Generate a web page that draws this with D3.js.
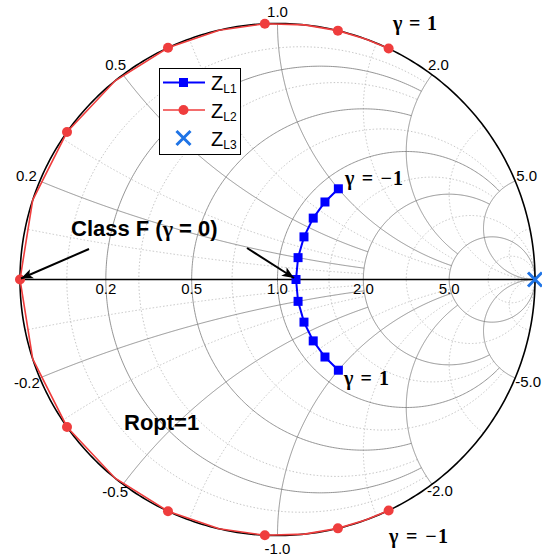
<!DOCTYPE html>
<html>
<head>
<meta charset="utf-8">
<script src="https://cdn.jsdelivr.net/npm/d3@7"></script>
<style>
  body { margin: 0; background: #fff; }
</style>
</head>
<body>
<svg id="chart" width="542" height="558" font-family="'Liberation Sans', Arial, sans-serif"></svg>
<script>
// Grid: major circles/arcs and the value at which each one stops
const majorValues = [0.2, 0.5, 1, 2, 5];
const majorLimits = [2, 2, 5, 5, Infinity];
// Minor dotted grid
const minorValues = [0.1, 0.3, 0.7, 1.5, 3, 10];
const minorLimits = [2, 2, 5, 5, Infinity, Infinity];

// Tick labels
const realTickLabels = ["0.2", "0.5", "1.0", "2.0", "5.0"];
const rimTickLabels = ["0.2", "0.5", "1.0", "2.0", "5.0"];
const rimNegTickLabels = ["-0.2", "-0.5", "-1.0", "-2.0", "-5.0"];

// Load impedances (normalised), markers at gamma = -1, -0.8 ... 1
const gammaSteps = [-1, -0.8, -0.6, -0.4, -0.2, 0, 0.2, 0.4, 0.6, 0.8, 1];
const zl1Re = [1.155, 1.155, 1.155, 1.155, 1.155, 1.155, 1.155, 1.155, 1.155, 1.155, 1.155];
const zl1Im = [1.0, 0.8, 0.6, 0.4, 0.2, 0, -0.2, -0.4, -0.6, -0.8, -1.0];
const zl2Re = [0, 0, 0, 0, 0, 0, 0, 0, 0, 0, 0];
const zl2Im = [-1.587, -1.270, -0.952, -0.635, -0.317, 0, 0.317, 0.635, 0.952, 1.270, 1.587];
// Z_L2 trace, gamma = -1 ... 1 in steps of 0.1 (purely reactive)
const zl2LineIm = [-1.587, -1.428, -1.270, -1.111, -0.952, -0.794, -0.635, -0.476, -0.317, -0.159, 0,
  0.159, 0.317, 0.476, 0.635, 0.794, 0.952, 1.111, 1.270, 1.428, 1.587];
const zl3Re = [Infinity];
const zl3Im = [0];

const legendNames = [["Z", "L1"], ["Z", "L2"], ["Z", "L3"]];

const svg = d3.select("#chart");
svg.append("rect").attr("width", 542).attr("height", 558).attr("fill", "#fff");
const x = d3.scaleLinear().domain([-1, 1]).range([20, 535]);
const y = d3.scaleLinear().domain([-1, 1]).range([535.5, 23.5]);

// reflection coefficient from normalised impedance
function gamma(re, im) {
  if (!isFinite(re) || !isFinite(im)) return [1, 0];
  const nr = re - 1, ni = im, dr = re + 1, di = im;
  const d = dr * dr + di * di;
  return [(nr * dr + ni * di) / d, (ni * dr - nr * di) / d];
}

const line = d3.line().x(d => x(d[0])).y(d => y(d[1]));

// constant-resistance circle r, drawn for |x| <= lim
function rCircle(r, lim) {
  const sMax = isFinite(lim) ? Math.atan(lim / (r + 1)) : Math.PI / 2;
  const pts = d3.range(0, 401).map(i => {
    const s = -sMax + (2 * sMax) * i / 400;
    const k = 2 / (r + 1);
    return [1 - k * Math.cos(s) ** 2, k * Math.cos(s) * Math.sin(s)];
  });
  return line(pts);
}
// constant-reactance arc xv, drawn for 0 <= r <= lim
function xArc(xv, lim) {
  const s0 = Math.atan(xv);
  const s1 = isFinite(lim) ? Math.atan(xv / (lim + 1)) : 0;
  const pts = d3.range(0, 401).map(i => {
    const s = s0 + (s1 - s0) * i / 400;
    return [1 - (2 / xv) * Math.sin(s) * Math.cos(s), (2 / xv) * Math.sin(s) ** 2];
  });
  return line(pts);
}

const grid = svg.append("g");
// minor dotted grid
minorValues.forEach((v, i) => {
  [rCircle(v, minorLimits[i]), xArc(v, minorLimits[i]), xArc(-v, minorLimits[i])].forEach(d => {
    grid.append("path").attr("d", d).attr("fill", "none")
      .attr("stroke", "#b8b8b8").attr("stroke-width", 0.8).attr("stroke-dasharray", "1.5,2");
  });
});
// major solid grid
majorValues.forEach((v, i) => {
  [rCircle(v, majorLimits[i]), xArc(v, majorLimits[i]), xArc(-v, majorLimits[i])].forEach(d => {
    grid.append("path").attr("d", d).attr("fill", "none")
      .attr("stroke", "#7a7a7a").attr("stroke-width", 0.8);
  });
});

// outer rim and real axis
svg.append("path").attr("d", rCircle(0, Infinity)).attr("fill", "none")
  .attr("stroke", "#000").attr("stroke-width", 1.6);
svg.append("line").attr("x1", x(-1)).attr("x2", x(1)).attr("y1", y(0)).attr("y2", y(0))
  .attr("stroke", "#000").attr("stroke-width", 1.6);

// data series
const toPts = (re, im) => re.map((r, i) => gamma(r, im[i]));
const s1 = toPts(zl1Re, zl1Im);
const s2 = toPts(zl2Re, zl2Im);
const s2Line = zl2LineIm.map(v => gamma(0, v));
const s3 = toPts(zl3Re, zl3Im);

const colL1 = "#0000ff", colL2 = "#ef3d3d", colL3 = "#1f74e6";

svg.append("path").attr("d", line(s2Line)).attr("fill", "none")
  .attr("stroke", colL2).attr("stroke-width", 1.6);
svg.selectAll(".m2").data(s2).join("circle")
  .attr("cx", d => x(d[0])).attr("cy", d => y(d[1])).attr("r", 5).attr("fill", colL2);

svg.append("path").attr("d", line(s1)).attr("fill", "none")
  .attr("stroke", colL1).attr("stroke-width", 2);
svg.selectAll(".m1").data(s1).join("rect")
  .attr("x", d => x(d[0]) - 4.5).attr("y", d => y(d[1]) - 4.5)
  .attr("width", 9).attr("height", 9).attr("fill", colL1);

function cross(g, cx, cy, h) {
  g.append("path").attr("d", `M${cx - h},${cy - h}L${cx + h},${cy + h}M${cx - h},${cy + h}L${cx + h},${cy - h}`)
    .attr("stroke", colL3).attr("stroke-width", 3).attr("fill", "none");
}
s3.forEach(d => cross(svg, x(d[0]), y(d[1]), 7));

// tick labels
const labels = svg.append("g").attr("font-size", 15).attr("fill", "#000");
majorValues.forEach((v, i) => {
  const g = gamma(v, 0);
  labels.append("text").attr("x", x(g[0])).attr("y", y(0) + 14)
    .attr("text-anchor", "middle").text(realTickLabels[i]);
});
const rimOffsets = [[-3, 0, "end"], [3, -5, "end"], [0, -7, "middle"], [-4, -5, "start"], [1, 0, "start"]];
const rimNegOffsets = [[0, 10, "end"], [5, 13, "end"], [0, 18, "middle"], [-5, 12, "start"], [0, 9, "start"]];
majorValues.forEach((v, i) => {
  const g = gamma(0, v);
  const o = rimOffsets[i];
  labels.append("text").attr("x", x(g[0]) + o[0]).attr("y", y(g[1]) + o[1])
    .attr("text-anchor", o[2]).text(rimTickLabels[i]);
  const gn = gamma(0, -v);
  const on = rimNegOffsets[i];
  labels.append("text").attr("x", x(gn[0]) + on[0]).attr("y", y(gn[1]) + on[1])
    .attr("text-anchor", on[2]).text(rimNegTickLabels[i]);
});

// arrows
const defs = svg.append("defs");
defs.append("marker").attr("id", "ah").attr("viewBox", "0 0 12 10").attr("refX", 12).attr("refY", 5)
  .attr("markerWidth", 12).attr("markerHeight", 10).attr("markerUnits", "userSpaceOnUse").attr("orient", "auto")
  .append("path").attr("d", "M0,0L12,5L0,10L3,5Z").attr("fill", "#000");
const arrows = [[89, 249, x(-1) + 1, y(0) - 1], [247, 248, 294, 278]];
arrows.forEach(a => {
  svg.append("line").attr("x1", a[0]).attr("y1", a[1]).attr("x2", a[2]).attr("y2", a[3])
    .attr("stroke", "#000").attr("stroke-width", 2).attr("marker-end", "url(#ah)");
});

// annotations
const serif = "'Liberation Serif', 'DejaVu Serif', serif";
function gammaLabel(px, py, txt, len) {
  svg.append("text").attr("x", px).attr("y", py).style("font-family", serif)
    .attr("font-weight", "bold").attr("font-size", 20)
    .attr("textLength", len).attr("lengthAdjust", "spacing").text(txt);
}
gammaLabel(393, 30, "γ = 1", 44);
gammaLabel(345, 184.5, "γ = −1", 58);
gammaLabel(344, 385, "γ = 1", 45);
gammaLabel(389, 543, "γ = −1", 59);

const cf = svg.append("text").attr("x", 71).attr("y", 236).attr("font-size", 22).attr("font-weight", "bold");
cf.append("tspan").text("Class F (");
cf.append("tspan").style("font-family", serif).text("γ");
cf.append("tspan").text(" = 0)");
svg.append("text").attr("x", 124).attr("y", 430).attr("font-size", 22).attr("font-weight", "bold").text("Ropt=1");

// legend
const lg = svg.append("g");
lg.append("rect").attr("x", 159.5).attr("y", 68.5).attr("width", 81).attr("height", 86)
  .attr("fill", "#fff").attr("stroke", "#000").attr("stroke-width", 1);
const rowY = [82.5, 110, 138];
lg.append("line").attr("x1", 163).attr("x2", 205).attr("y1", rowY[0]).attr("y2", rowY[0])
  .attr("stroke", colL1).attr("stroke-width", 2);
lg.append("rect").attr("x", 179).attr("y", rowY[0] - 4.5).attr("width", 9).attr("height", 9).attr("fill", colL1);
lg.append("line").attr("x1", 163).attr("x2", 205).attr("y1", rowY[1]).attr("y2", rowY[1])
  .attr("stroke", colL2).attr("stroke-width", 1.5);
lg.append("circle").attr("cx", 183.5).attr("cy", rowY[1]).attr("r", 5).attr("fill", colL2);
cross(lg, 183.5, rowY[2], 7);
legendNames.forEach((n, i) => {
  const t = lg.append("text").attr("x", 211).attr("y", rowY[i] + 7.5).attr("font-size", 20);
  t.append("tspan").text(n[0]);
  t.append("tspan").attr("font-size", 12).attr("dy", 3).text(n[1]);
});
</script>
</body>
</html>
